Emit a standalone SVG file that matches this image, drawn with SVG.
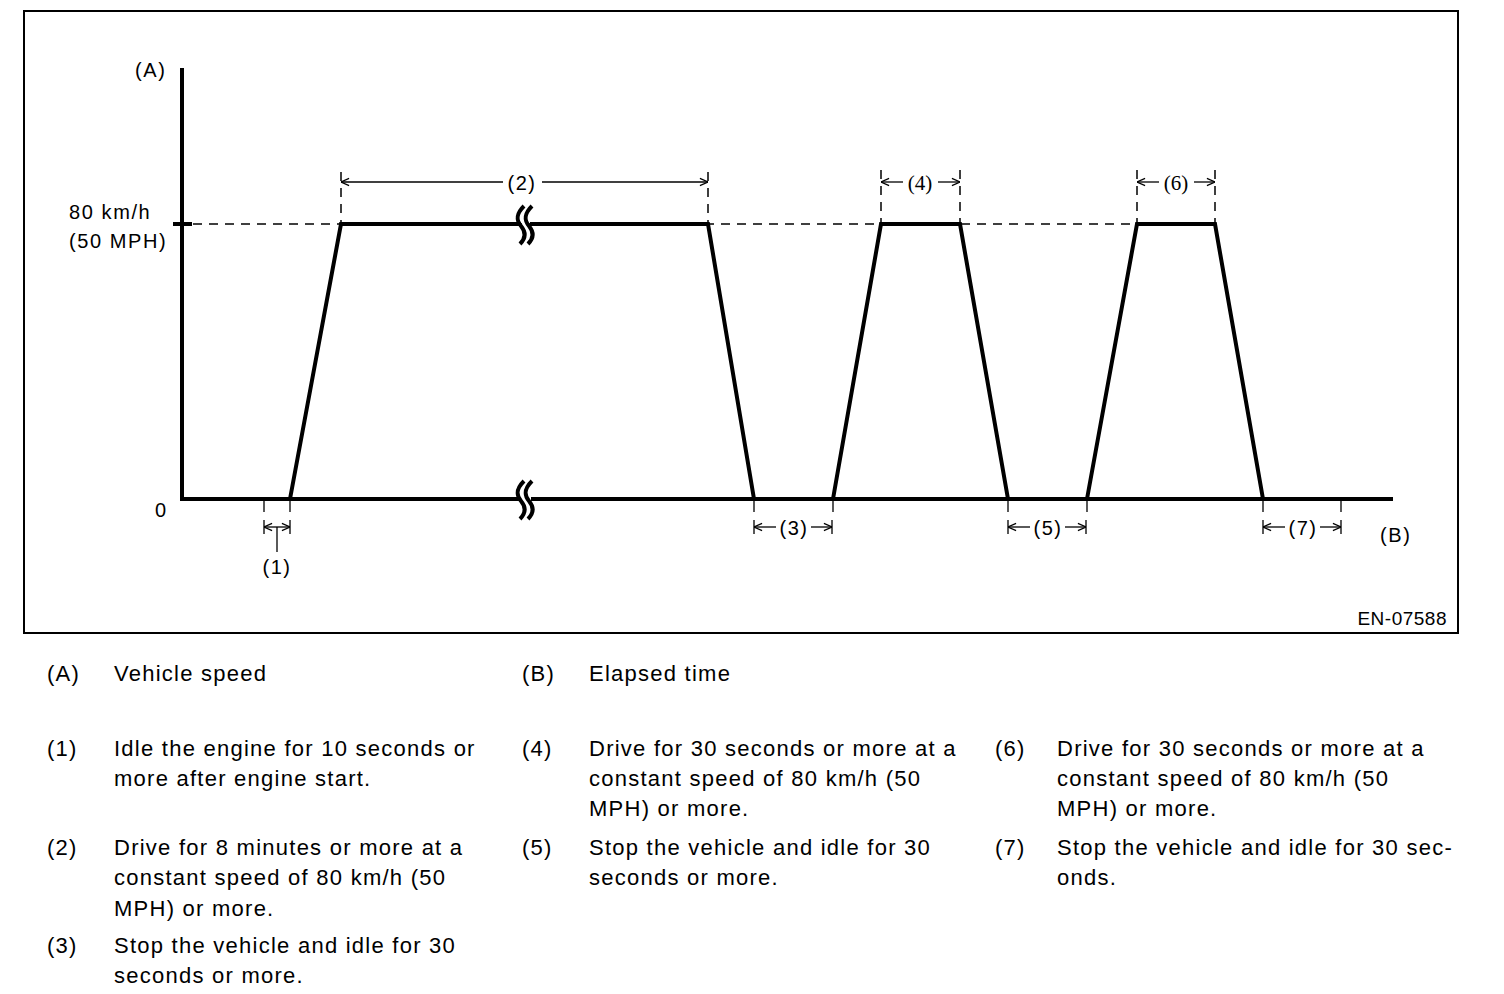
<svg xmlns="http://www.w3.org/2000/svg" width="1504" height="994" viewBox="0 0 1504 994">
<style>
.lbl{font-family:"Liberation Sans",Arial,sans-serif;font-size:20px;letter-spacing:1.6px;fill:#000}
.ser{font-family:"Liberation Serif","Times New Roman",serif;font-size:21px;fill:#000}
.leg{font-family:"Liberation Sans",Arial,sans-serif;font-size:22px;letter-spacing:1.25px;fill:#000}
.thick{stroke:#000;stroke-width:4;fill:none;stroke-linejoin:miter}
.thin{stroke:#000;stroke-width:1.3;fill:none}
.dash{stroke:#000;stroke-width:1.5;fill:none;stroke-dasharray:9 7}
.dim{stroke:#000;stroke-width:1.3;fill:none;marker-start:url(#arr);marker-end:url(#arr)}
.dimS{stroke:#000;stroke-width:1.3;fill:none;marker-start:url(#arr)}
.dimE{stroke:#000;stroke-width:1.3;fill:none;marker-end:url(#arr)}
</style>
<defs>
<marker id="arr" viewBox="0 0 10 10" refX="10" refY="5" markerWidth="9" markerHeight="10" markerUnits="userSpaceOnUse" orient="auto-start-reverse">
<path d="M1,1 L10,5 L1,9" fill="none" stroke="#000" stroke-width="1.3"/>
</marker>
</defs>
<rect x="24" y="11" width="1434" height="622" fill="#fff" stroke="#000" stroke-width="2"/>

<g id="axes">
<line class="thick" x1="182" y1="68" x2="182" y2="501"/>
<line class="thick" x1="173" y1="224" x2="192" y2="224"/>
<path class="thick" d="M180,499 H521 M531,499 H1393"/>
<text class="lbl" x="135" y="77">(A)</text>
<text class="lbl" x="69" y="219">80 km/h</text>
<text class="lbl" x="69" y="248">(50 MPH)</text>
<text class="lbl" x="155" y="517">0</text>
<text class="lbl" x="1380" y="542">(B)</text>
</g>

<g id="reference-line">
<line class="dash" x1="193" y1="224" x2="1137" y2="224"/>
</g>

<g id="breaks">
<path class="thick" stroke-width="3" d="M524,206 C516,214 516,220 521,226 C526,232 526,238 520,244 M532,206 C524,214 524,220 529,226 C534,232 534,238 528,244"/>
<path class="thick" stroke-width="3" d="M524,481 C516,489 516,495 521,501 C526,507 526,513 520,519 M532,481 C524,489 524,495 529,501 C534,507 534,513 528,519"/>
</g>

<g id="speed-profile">
<path class="thick" d="M290,499 L341,224 L521,224 M530,224 L708,224 L754,499"/>
<path class="thick" d="M833,499 L881,224 L960,224 L1008,499"/>
<path class="thick" d="M1087,499 L1137,224 L1215,224 L1263,499"/>
</g>

<g id="connectors">
<line class="dash" x1="341" y1="172" x2="341" y2="224" stroke-dasharray="12 6"/>
<line class="dash" x1="708" y1="172" x2="708" y2="224" stroke-dasharray="12 6"/>
<line class="dash" x1="881" y1="170" x2="881" y2="224" stroke-dasharray="12 6"/>
<line class="dash" x1="960" y1="170" x2="960" y2="224" stroke-dasharray="12 6"/>
<line class="dash" x1="1137" y1="170" x2="1137" y2="224" stroke-dasharray="12 6"/>
<line class="dash" x1="1215" y1="170" x2="1215" y2="224" stroke-dasharray="12 6"/>
<line class="dimS" x1="341" y1="182" x2="503" y2="182"/>
<line class="dimE" x1="542" y1="182" x2="708" y2="182"/>
<line class="dimS" x1="881" y1="182" x2="903" y2="182"/>
<line class="dimE" x1="938" y1="182" x2="960" y2="182"/>
<line class="dimS" x1="1137" y1="182" x2="1159" y2="182"/>
<line class="dimE" x1="1194" y1="182" x2="1215" y2="182"/>
<path class="thin" d="M264,500 V512 M290,500 V512 M754,500 V512 M833,500 V512 M1008,500 V512 M1087,500 V512 M1263,500 V512 M1341,500 V512"/>
<path class="thin" d="M264,520 V534 M290,520 V534 M754,520 V534 M832,520 V534 M1008,520 V534 M1086,520 V534 M1263,520 V534 M1341,520 V534"/>
<line class="dim" x1="264" y1="527" x2="290" y2="527"/>
<line class="thin" x1="277" y1="527" x2="277" y2="552"/>
<line class="dimS" x1="754" y1="527" x2="776" y2="527"/>
<line class="dimE" x1="811" y1="527" x2="832" y2="527"/>
<line class="dimS" x1="1008" y1="527" x2="1030" y2="527"/>
<line class="dimE" x1="1065" y1="527" x2="1086" y2="527"/>
<line class="dimS" x1="1263" y1="527" x2="1285" y2="527"/>
<line class="dimE" x1="1320" y1="527" x2="1341" y2="527"/>
</g>

<g id="dim-labels">
<text class="lbl" x="522" y="190" text-anchor="middle">(2)</text>
<text class="ser" x="920" y="190" text-anchor="middle">(4)</text>
<text class="ser" x="1176" y="190" text-anchor="middle">(6)</text>
<text class="lbl" x="277" y="574" text-anchor="middle">(1)</text>
<text class="lbl" x="794" y="535" text-anchor="middle">(3)</text>
<text class="lbl" x="1048" y="535" text-anchor="middle">(5)</text>
<text class="lbl" x="1303" y="535" text-anchor="middle">(7)</text>
<text class="lbl" x="1447" y="625" text-anchor="end" style="font-size:19px;letter-spacing:0.5px">EN-07588</text>
</g>

<g id="legend">
<text class="leg" x="47" y="681">(A)</text>
<text class="leg" x="114" y="681">Vehicle speed</text>
<text class="leg" x="522" y="681">(B)</text>
<text class="leg" x="589" y="681">Elapsed time</text>

<text class="leg" x="47" y="756">(1)</text>
<text class="leg" x="114" y="756">Idle the engine for 10 seconds or</text>
<text class="leg" x="114" y="786">more after engine start.</text>
<text class="leg" x="47" y="855">(2)</text>
<text class="leg" x="114" y="855">Drive for 8 minutes or more at a</text>
<text class="leg" x="114" y="885">constant speed of 80 km/h (50</text>
<text class="leg" x="114" y="916">MPH) or more.</text>
<text class="leg" x="47" y="953">(3)</text>
<text class="leg" x="114" y="953">Stop the vehicle and idle for 30</text>
<text class="leg" x="114" y="983">seconds or more.</text>

<text class="leg" x="522" y="756">(4)</text>
<text class="leg" x="589" y="756">Drive for 30 seconds or more at a</text>
<text class="leg" x="589" y="786">constant speed of 80 km/h (50</text>
<text class="leg" x="589" y="816">MPH) or more.</text>
<text class="leg" x="522" y="855">(5)</text>
<text class="leg" x="589" y="855">Stop the vehicle and idle for 30</text>
<text class="leg" x="589" y="885">seconds or more.</text>

<text class="leg" x="995" y="756">(6)</text>
<text class="leg" x="1057" y="756">Drive for 30 seconds or more at a</text>
<text class="leg" x="1057" y="786">constant speed of 80 km/h (50</text>
<text class="leg" x="1057" y="816">MPH) or more.</text>
<text class="leg" x="995" y="855">(7)</text>
<text class="leg" x="1057" y="855">Stop the vehicle and idle for 30 sec-</text>
<text class="leg" x="1057" y="885">onds.</text>
</g>
</svg>
